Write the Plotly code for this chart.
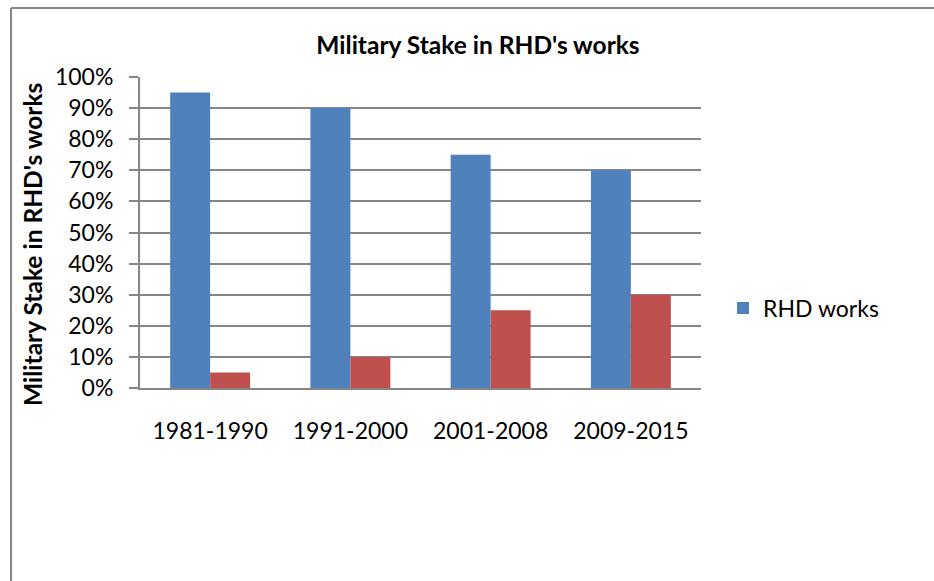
import plotly.graph_objects as go

categories = ["1981-1990", "1991-2000", "2001-2008", "2009-2015"]
rhd_works = [0.95, 0.90, 0.75, 0.70]
other_works = [0.05, 0.10, 0.25, 0.30]
y_ticks = [i / 10 for i in range(11)]

title_text = "Military Stake in RHD's works"
y_title_text = "Military Stake in RHD's works"

W, H = 934, 581
L, R, T, B = 140, 701, 77, 388

FONT = "Lato"
GRID = "#868686"
FS = 23
FSB = 24.5


def px_x(v):
    return (v - L) / (R - L)


def px_y(v):
    return 1 - (v - T) / (B - T)


fig = go.Figure()
fig.add_trace(go.Bar(x=categories, y=rhd_works, name="RHD works",
                     marker=dict(color="#4F81BD", line=dict(width=0))))
fig.add_trace(go.Bar(x=categories, y=other_works, name="Other works",
                     showlegend=False,
                     marker=dict(color="#C0504D", line=dict(width=0))))

border = dict(color=GRID, width=2)
fig.update_layout(
    width=W, height=H,
    margin=dict(l=L, r=W - R, t=T, b=H - B, pad=0),
    paper_bgcolor="white", plot_bgcolor="white",
    barmode="group", bargap=0.43, bargroupgap=0,
    font=dict(family=FONT, size=FS, color="black"),
    title=dict(text=title_text, x=478 / W, xref="container", xanchor="center",
               y=1 - 45 / H, yref="container", yanchor="middle",
               font=dict(family=FONT, size=FSB, color="black", weight="bold")),
    showlegend=True,
    legend=dict(x=px_x(723), xanchor="left", y=px_y(308),
                yanchor="middle", font=dict(family=FONT, size=FS, color="black"),
                bgcolor="rgba(0,0,0,0)", itemwidth=30),
    xaxis=dict(showgrid=False, showline=True, linecolor=GRID, linewidth=2,
               ticks="", ticklabelstandoff=21, tickfont=dict(size=FS)),
    yaxis=dict(range=[0, 1], tickvals=y_ticks, tickformat=".0%", showgrid=True,
               gridcolor=GRID, gridwidth=1.5, showline=True, linecolor=GRID,
               linewidth=2, ticks="outside", ticklen=9, tickcolor=GRID,
               tickwidth=1.5, ticklabelstandoff=11, tickfont=dict(size=FS),
               zeroline=False),
    annotations=[dict(text=y_title_text, textangle=-90, xref="paper", yref="paper",
                      x=px_x(32), y=px_y(245),
                      xanchor="center", yanchor="middle", showarrow=False,
                      font=dict(family=FONT, size=FSB, color="black", weight="bold"))],
    shapes=[
        dict(type="line", xref="paper", yref="paper",
             x0=px_x(11), x1=px_x(940), y0=px_y(8), y1=px_y(8),
             line=border, layer="below"),
        dict(type="line", xref="paper", yref="paper",
             x0=px_x(11), x1=px_x(11), y0=px_y(8), y1=px_y(590),
             line=border, layer="below"),
    ],
)

fig.write_html(
    "out.html",
    config={"displayModeBar": False},
    post_script="document.body.style.margin='0';document.body.style.overflow='hidden';",
)
